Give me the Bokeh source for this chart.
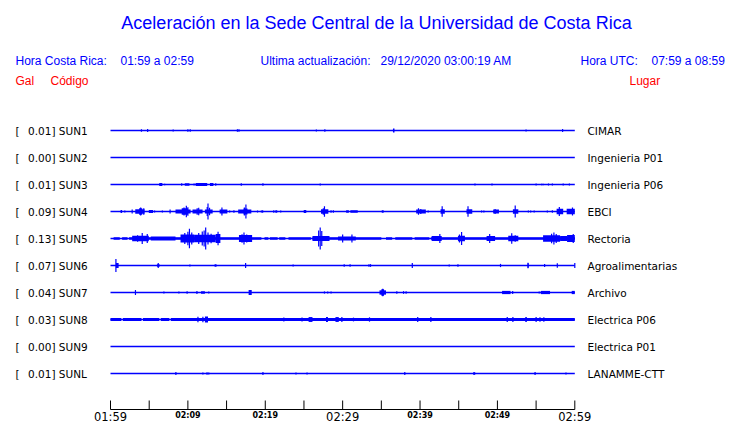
from bokeh.plotting import figure
from bokeh.models import Range1d
from bokeh.embed import file_html
from bokeh.resources import INLINE
from bokeh.core.properties import value

# ---------------- data ----------------
TITLE = "Aceleración en la Sede Central de la Universidad de Costa Rica"
HORA_CR = "01:59 a 02:59"
ACTUALIZACION = "29/12/2020 03:00:19 AM"
HORA_UTC = "07:59 a 08:59"

CODES = ["SUN1", "SUN2", "SUN3", "SUN4", "SUN5", "SUN6", "SUN7", "SUN8", "SUN9", "SUNL"]
PEAKS_GAL = [0.01, 0.00, 0.01, 0.09, 0.13, 0.07, 0.04, 0.03, 0.00, 0.01]
PLACES = ["CIMAR", "Ingenieria P01", "Ingenieria P06", "EBCI", "Rectoria",
          "Agroalimentarias", "Archivo", "Electrica P06", "Electrica P01", "LANAMME-CTT"]

# minutes after 01:59, tick labels
TICK_MINUTES = [0, 5, 10, 15, 20, 25, 30, 35, 40, 45, 50, 55, 60]
LABEL_MINUTES = [0, 10, 20, 30, 40, 50, 60]
LABEL_TEXTS = ["01:59", "02:09", "02:19", "02:29", "02:39", "02:49", "02:59"]
LABEL_MAJOR = [True, False, False, True, False, False, True]
TRACE_MINUTES = 60

# bursts: (start minute, end minute, half amplitude in trace-spacing units)
# spikes: (minute, half amplitude)
SUN1_BURSTS = [(36.5, 36.7, 0.07), (58.35, 58.5, 0.06)]
SUN1_SPIKES = [(4.0, 0.05), (4.8, 0.06), (8.1, 0.04), (10.0, 0.05), (10.3, 0.05), (16.4, 0.05),
               (16.6, 0.05), (26.6, 0.04), (27.7, 0.05), (53.7, 0.04)]

SUN2_BURSTS = []
SUN2_SPIKES = []

SUN3_BURSTS = [(6.3, 6.7, 0.06), (9.6, 10.2, 0.05), (11.0, 12.5, 0.06), (12.85, 13.3, 0.06)]
SUN3_SPIKES = [(7.0, 0.03), (9.2, 0.05), (10.8, 0.04), (13.6, 0.05), (16.9, 0.05), (19.7, 0.05),
               (27.1, 0.04), (47.1, 0.04), (49.3, 0.04), (55.0, 0.04), (55.7, 0.03), (55.9, 0.03),
               (56.6, 0.04), (57.1, 0.04), (58.5, 0.04), (59.3, 0.04)]

SUN4_BURSTS = [(1.3, 1.5, 0.06), (3.2, 4.4, 0.08), (3.7, 4.1, 0.12), (4.95, 5.5, 0.06),
               (8.4, 10.35, 0.07), (9.2, 10.0, 0.12), (10.6, 11.9, 0.07), (12.2, 13.2, 0.07),
               (14.1, 15.1, 0.07), (16.5, 18.2, 0.07), (17.2, 17.7, 0.11), (21.3, 21.55, 0.05),
               (24.97, 25.3, 0.06), (27.2, 28.15, 0.08), (30.45, 30.8, 0.05), (31.0, 31.95, 0.05),
               (35.05, 35.3, 0.05), (39.5, 40.75, 0.07), (42.65, 43.2, 0.08), (46.0, 46.75, 0.08),
               (49.45, 50.2, 0.07), (52.0, 52.7, 0.08), (57.65, 58.5, 0.1), (58.95, 60.0, 0.1)]
SUN4_SPIKES = [(1.85, 0.04), (2.8, 0.07), (3.9, 0.15), (4.3, 0.12), (5.7, 0.04), (6.7, 0.04),
               (7.7, 0.07), (9.5, 0.15), (9.8, 0.21), (10.0, 0.16), (11.2, 0.12), (11.4, 0.14),
               (12.5, 0.17), (12.6, 0.3), (12.8, 0.14), (14.4, 0.15), (15.4, 0.04), (15.95, 0.05),
               (17.3, 0.15), (17.5, 0.26), (19.0, 0.04), (19.5, 0.04), (19.66, 0.05), (21.1, 0.05),
               (22.0, 0.04), (27.5, 0.12), (27.65, 0.19), (28.5, 0.05), (28.8, 0.05), (39.8, 0.12),
               (40.1, 0.09), (41.05, 0.04), (42.86, 0.19), (46.2, 0.19), (47.95, 0.04), (48.25, 0.04),
               (49.7, 0.09), (52.3, 0.22), (54.0, 0.04), (54.3, 0.04), (54.75, 0.04), (56.45, 0.04),
               (57.1, 0.05), (58.0, 0.17), (59.7, 0.15)]

SUN5_BURSTS = [(0.4, 1.2, 0.05), (1.5, 2.2, 0.05), (2.4, 19.5, 0.05), (19.9, 20.4, 0.05),
               (20.6, 21.6, 0.05), (21.8, 22.6, 0.05), (23.0, 25.9, 0.05), (26.1, 35.0, 0.05),
               (35.6, 36.4, 0.05), (36.8, 39.0, 0.05), (39.3, 41.2, 0.05), (41.4, 60.0, 0.05),
               (2.8, 4.95, 0.1), (5.2, 8.4, 0.07), (9.05, 10.8, 0.15), (10.8, 13.6, 0.14),
               (13.6, 14.2, 0.17), (16.6, 18.3, 0.13), (26.1, 28.3, 0.09), (29.4, 31.7, 0.07),
               (41.5, 42.8, 0.09), (44.9, 45.8, 0.1), (48.6, 49.7, 0.09), (51.4, 52.7, 0.1),
               (55.9, 58.1, 0.12), (58.1, 59.0, 0.09), (59.0, 60.0, 0.13)]
SUN5_SPIKES = [(3.5, 0.12), (4.1, 0.2), (4.75, 0.17), (9.6, 0.2), (10.0, 0.25), (10.2, 0.36),
               (10.5, 0.22), (11.4, 0.2), (11.86, 0.26), (12.1, 0.3), (12.3, 0.41), (12.6, 0.22),
               (13.0, 0.18), (13.9, 0.25), (17.0, 0.16), (17.25, 0.22), (17.6, 0.15), (26.9, 0.3),
               (27.1, 0.41), (27.3, 0.28), (30.0, 0.15), (31.2, 0.15), (42.56, 0.17), (45.1, 0.15),
               (45.37, 0.24), (49.0, 0.17), (51.85, 0.19), (52.3, 0.12), (57.0, 0.18), (57.3, 0.22),
               (57.6, 0.17), (59.8, 0.17)]

SUN6_BURSTS = [(0.7, 1.05, 0.09), (6.0, 6.35, 0.05), (13.45, 13.7, 0.05), (53.9, 54.05, 0.08)]
SUN6_SPIKES = [(0.7, 0.24), (6.17, 0.09), (10.26, 0.04), (17.46, 0.09), (23.6, 0.04), (30.2, 0.05),
               (30.96, 0.05), (33.4, 0.05), (33.6, 0.05), (39.0, 0.09), (43.77, 0.04), (44.9, 0.05),
               (50.4, 0.06), (53.95, 0.1), (56.1, 0.06), (57.74, 0.08), (60.0, 0.09)]

SUN7_BURSTS = [(3.15, 3.3, 0.09), (11.7, 12.2, 0.05), (17.85, 18.25, 0.09), (34.76, 35.6, 0.08),
               (35.0, 35.35, 0.12), (50.6, 51.7, 0.06), (55.6, 56.8, 0.06), (59.6, 60.0, 0.06)]
SUN7_SPIKES = [(6.9, 0.04), (8.84, 0.04), (9.9, 0.05), (11.17, 0.06), (12.7, 0.04), (27.65, 0.04),
               (28.07, 0.04), (28.5, 0.04), (35.18, 0.14), (37.0, 0.05), (37.87, 0.05), (38.2, 0.05),
               (51.97, 0.06), (55.4, 0.04)]

SUN8_BURSTS = [(0.0, 1.4, 0.06), (1.6, 4.0, 0.06), (4.2, 6.3, 0.06), (6.5, 7.6, 0.06),
               (7.8, 60.0, 0.06), (12.2, 12.6, 0.11), (25.6, 26.1, 0.09), (27.85, 28.1, 0.09),
               (29.07, 29.5, 0.09), (53.6, 53.8, 0.09)]
SUN8_SPIKES = [(11.3, 0.1), (11.94, 0.1), (22.4, 0.07), (24.75, 0.07), (29.9, 0.09), (31.4, 0.07),
               (33.47, 0.08), (39.7, 0.09), (41.4, 0.09), (51.27, 0.09), (52.0, 0.09), (55.0, 0.09),
               (55.5, 0.08), (56.0, 0.08)]

SUN9_BURSTS = []
SUN9_SPIKES = []

SUNL_BURSTS = [(12.4, 12.55, 0.05), (46.87, 47.13, 0.05), (54.76, 54.98, 0.05)]
SUNL_SPIKES = [(8.45, 0.06), (11.94, 0.04), (12.7, 0.04), (19.7, 0.06), (23.97, 0.04), (25.4, 0.04),
               (38.03, 0.06), (58.86, 0.04)]

BURSTS = [SUN1_BURSTS, SUN2_BURSTS, SUN3_BURSTS, SUN4_BURSTS, SUN5_BURSTS,
          SUN6_BURSTS, SUN7_BURSTS, SUN8_BURSTS, SUN9_BURSTS, SUNL_BURSTS]
SPIKES = [SUN1_SPIKES, SUN2_SPIKES, SUN3_SPIKES, SUN4_SPIKES, SUN5_SPIKES,
          SUN6_SPIKES, SUN7_SPIKES, SUN8_SPIKES, SUN9_SPIKES, SUNL_SPIKES]

# ---------------- layout helpers (page pixels -> data) ----------------
W, H = 740, 423
ORIGIN = 0                                 # page offset of the canvas
X0_PAGE, X60_PAGE = 110.0, 574.3           # page x of minute 0 and minute 60
ROW0_PAGE, ROW_STEP = 130.0, 27.0          # page y of first trace, spacing
PX_MIN = (X60_PAGE - X0_PAGE) / 60.0


def tx(px):
    return (px - X0_PAGE) / PX_MIN


def ry(py):
    return (py - ROW0_PAGE) / ROW_STEP


BLUE = "#0000ff"
RED = "#ff0000"

p = figure(width=W, height=H, output_backend="svg", toolbar_location=None,
           x_range=Range1d(tx(ORIGIN), tx(ORIGIN + W)), y_range=Range1d(ry(ORIGIN + H), ry(ORIGIN)),
           min_border=0, x_axis_location=None, y_axis_location=None,
           outline_line_color=None, background_fill_color="white", border_fill_color="white")
p.xgrid.visible = False
p.ygrid.visible = False

# ---------------- traces ----------------
rows = list(range(len(CODES)))
p.segment(x0=[0] * len(rows), x1=[TRACE_MINUTES] * len(rows), y0=rows, y1=rows,
          line_color=BLUE, line_width=1.3)

ql, qr, qb, qt = [], [], [], []
for r, bl in enumerate(BURSTS):
    for (a, b, amp) in bl:
        ql.append(a)
        qr.append(max(b, a + 0.13))
        qb.append(r - amp)
        qt.append(r + amp)
p.quad(left=ql, right=qr, bottom=qb, top=qt, fill_color=BLUE, line_color=None)

sx, sy0, sy1 = [], [], []
for r, sl in enumerate(SPIKES):
    for (t, amp) in sl:
        sx.append(t)
        sy0.append(r - amp)
        sy1.append(r + amp)
p.segment(x0=sx, x1=sx, y0=sy0, y1=sy1, line_color=BLUE, line_width=1.2)

# ---------------- station labels ----------------
FONT_L = value("DejaVu Sans")
p.text(x=[tx(15)] * len(rows), y=rows, text=["["] * len(rows), text_font=FONT_L,
       text_font_size="10.5px", text_color="black", text_baseline="middle", text_align="left")
p.text(x=[tx(27.5)] * len(rows), y=rows,
       text=[f"{v:.2f}] {c}" for v, c in zip(PEAKS_GAL, CODES)], text_font=FONT_L,
       text_font_size="10.5px", text_color="black", text_baseline="middle", text_align="left")
p.text(x=[tx(587)] * len(rows), y=rows, text=PLACES, text_font=FONT_L,
       text_font_size="10.5px", text_color="black", text_baseline="middle", text_align="left")

# ---------------- time axis ----------------
AXIS_Y = ry(409)
TICK_TOP = ry(400)
p.segment(x0=[0], x1=[TRACE_MINUTES], y0=[AXIS_Y], y1=[AXIS_Y], line_color="black", line_width=1)
p.segment(x0=TICK_MINUTES, x1=TICK_MINUTES, y0=[AXIS_Y] * len(TICK_MINUTES),
          y1=[TICK_TOP] * len(TICK_MINUTES), line_color="black", line_width=1)
big = [(m, s) for m, s, b in zip(LABEL_MINUTES, LABEL_TEXTS, LABEL_MAJOR) if b]
small = [(m, s) for m, s, b in zip(LABEL_MINUTES, LABEL_TEXTS, LABEL_MAJOR) if not b]
p.text(x=[m for m, _ in big], y=[ry(416.0)] * len(big), text=[s for _, s in big],
       text_font=FONT_L, text_font_size="11.5px", text_color="black",
       text_align="center", text_baseline="middle")
p.text(x=[m for m, _ in small], y=[ry(415.0)] * len(small), text=[s for _, s in small],
       text_font=FONT_L, text_font_size="8px", text_font_style="bold", text_color="black",
       text_align="center", text_baseline="middle")

# ---------------- header ----------------
FONT_H = value("Liberation Sans")
p.text(x=[tx(376)], y=[ry(22)], text=[TITLE], text_font=FONT_H, text_font_size="18px",
       text_color=BLUE, text_align="center", text_baseline="middle")
blue_x = [tx(15), tx(120), tx(260), tx(380), tx(580), tx(651)]
blue_t = ["Hora Costa Rica:", HORA_CR, "Ultima actualización:", ACTUALIZACION, "Hora UTC:", HORA_UTC]
p.text(x=blue_x, y=[ry(60)] * len(blue_x), text=blue_t, text_font=FONT_H, text_font_size="12px",
       text_color=BLUE, text_align="left", text_baseline="middle")
red_x = [tx(15), tx(50), tx(629)]
red_t = ["Gal", "Código", "Lugar"]
p.text(x=red_x, y=[ry(80)] * len(red_x), text=red_t, text_font=FONT_H, text_font_size="12px",
       text_color=RED, text_align="left", text_baseline="middle")

open("out.html", "w").write(file_html(p, INLINE))
